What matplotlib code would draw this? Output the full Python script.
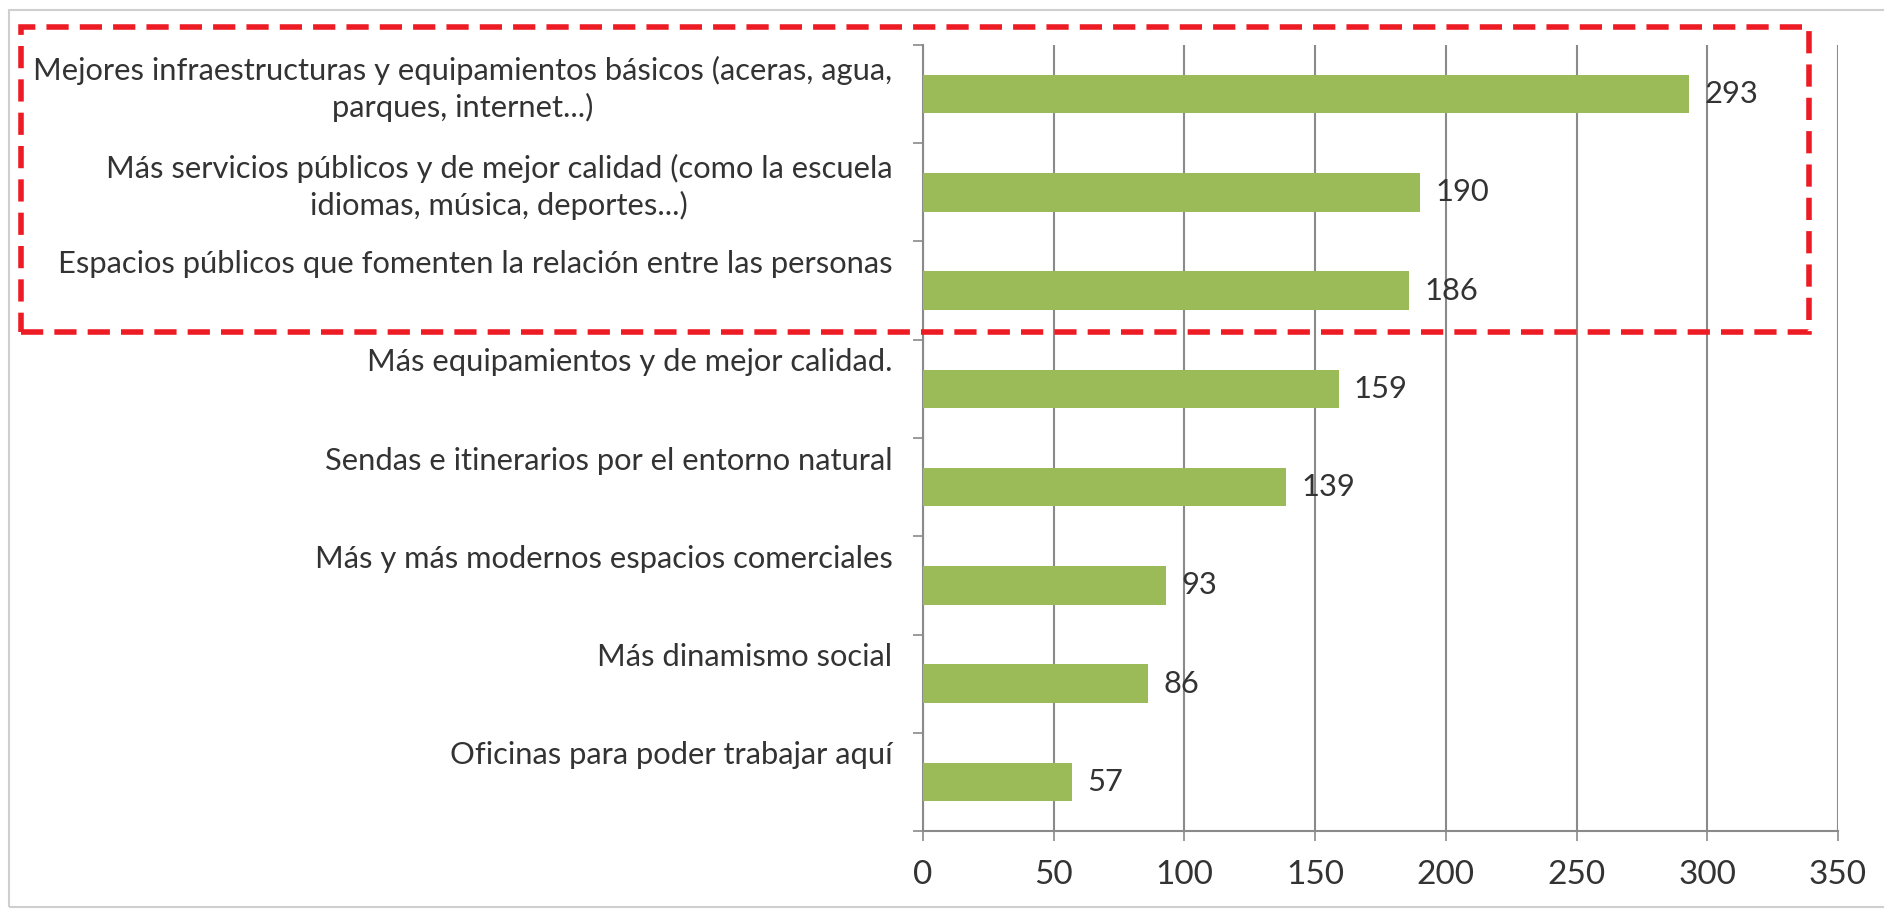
import matplotlib.pyplot as plt
from matplotlib.patches import Rectangle
import numpy as np

# data (top to bottom as in the chart)
categories = [
    "Mejores infraestructuras y equipamientos básicos (aceras, agua,\nparques, internet...)",
    "Más servicios públicos y de mejor calidad (como la escuela\nidiomas, música, deportes...)",
    "Espacios públicos que fomenten la relación entre las personas",
    "Más equipamientos y de mejor calidad.",
    "Sendas e itinerarios por el entorno natural",
    "Más y más modernos espacios comerciales",
    "Más dinamismo social",
    "Oficinas para poder trabajar aquí",
]
values = [293, 190, 186, 159, 139, 93, 86, 57]
xticks = [0, 50, 100, 150, 200, 250, 300, 350]

plt.rcParams['font.family'] = ['Lato', 'DejaVu Sans']
text_col = '#333333'
grid_col = '#8a8a8a'
bar_col = '#9bbb59'

fig = plt.figure(figsize=(18.84, 9.09), dpi=100)
ax = fig.add_axes([923/1884, 78/909, 915/1884, 786/909])

# pick a font size so the longest label line spans ~865 px like the original
r = fig.canvas.get_renderer()
probe = fig.text(0, 0, categories[0].split('\n')[0], fontsize=20)
w = probe.get_window_extent(renderer=r).width
probe.remove()
fs = 20 * 862 / w

n = len(categories)
pos = np.arange(n)[::-1] + 0.5
ax.barh(pos, values, height=0.39, color=bar_col, zorder=3)
ax.set_xlim(0, 350)
ax.set_ylim(0, n)

ax.set_xticks(xticks)
ax.set_xticklabels([str(t) for t in xticks], fontsize=fs * 1.08, color=text_col)
ax.set_yticks(np.arange(n + 1))
ax.set_yticklabels([])
ax.tick_params(axis='x', length=7, width=1.2, color=grid_col, pad=14)
ax.tick_params(axis='y', length=7, width=1.2, color=grid_col)
ax.grid(axis='x', color=grid_col, linewidth=1.5, zorder=0)
for s in ['top', 'right']:
    ax.spines[s].set_visible(False)
for s in ['left', 'bottom']:
    ax.spines[s].set_color(grid_col)
    ax.spines[s].set_linewidth(1.5)

# category labels
for p, lab in zip(pos, categories):
    off = 4 if '\n' in lab else 19
    ax.annotate(lab, xy=(0, p), xytext=(-22, off), textcoords='offset points',
                ha='right', va='center', multialignment='center',
                fontsize=fs, color=text_col, linespacing=1.32)

# value labels
for p, v in zip(pos, values):
    ax.annotate(str(v), xy=(v, p), xytext=(11, 0), textcoords='offset points',
                ha='left', va='center', fontsize=fs, color=text_col)

# outer frame and red dashed highlight box
fig.add_artist(Rectangle((9/1884, 2/909), 1884/1884, 897/909, transform=fig.transFigure,
                         fill=False, edgecolor='#cfcfcf', linewidth=1.5))
fig.add_artist(Rectangle((21/1884, (909-332)/909), (1809-21)/1884, (332-27)/909,
                         transform=fig.transFigure, fill=False, edgecolor='#ed1c24',
                         linewidth=4, linestyle=(0, (4, 2)), zorder=10))

fig.savefig('out.png', dpi=100, facecolor='white')
